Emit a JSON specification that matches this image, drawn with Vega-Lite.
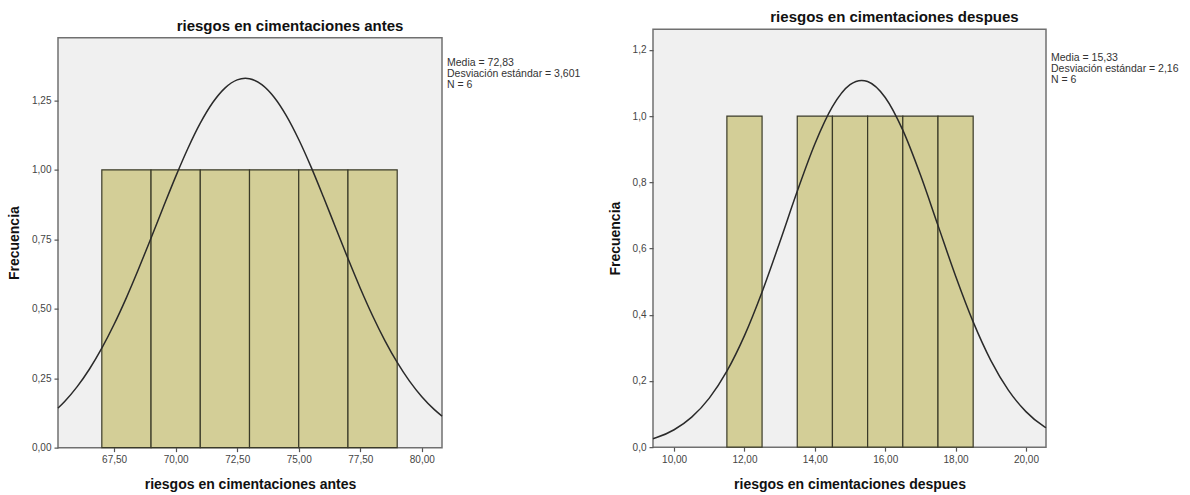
{
  "$schema": "https://vega.github.io/schema/vega-lite/v6.json",
  "background": "white",
  "padding": {"left": 6, "top": 9, "right": 0, "bottom": 0},
  "spacing": 25,
  "center": true,
  "config": {
    "view": {"fill": "#f0f0f0", "stroke": "#707070", "strokeWidth": 1.5},
    "axis": {"grid": false, "domain": false, "tickColor": "#555555", "tickSize": 4, "tickWidth": 1.2,
             "labelFont": "Liberation Sans", "labelFontSize": 10, "labelColor": "#444444", "labelPadding": 3,
             "titleFont": "Liberation Sans", "titleFontSize": 14, "titleFontWeight": "bold", "titleColor": "#111111"},
    "title": {"font": "Liberation Sans", "fontSize": 15, "fontWeight": "bold", "color": "#111111", "anchor": "middle", "frame": "group", "offset": 4}
  },
  "datasets": {
    "histA": [
      {"bin_start": 67, "bin_end": 69, "count": 1},
      {"bin_start": 69, "bin_end": 71, "count": 1},
      {"bin_start": 71, "bin_end": 73, "count": 1},
      {"bin_start": 73, "bin_end": 75, "count": 1},
      {"bin_start": 75, "bin_end": 77, "count": 1},
      {"bin_start": 77, "bin_end": 79, "count": 1}
    ],
    "curveA": [
      {"x": 65.22, "y": 0.1422}, {"x": 65.5, "y": 0.1672}, {"x": 66.0, "y": 0.2197}, {"x": 66.5, "y": 0.2831},
      {"x": 67.0, "y": 0.3580}, {"x": 67.5, "y": 0.4440}, {"x": 68.0, "y": 0.5401}, {"x": 68.5, "y": 0.6446},
      {"x": 69.0, "y": 0.7545}, {"x": 69.5, "y": 0.8662}, {"x": 70.0, "y": 0.9756}, {"x": 70.5, "y": 1.0777},
      {"x": 71.0, "y": 1.1679}, {"x": 71.5, "y": 1.2414}, {"x": 72.0, "y": 1.2943}, {"x": 72.5, "y": 1.3238},
      {"x": 72.83, "y": 1.3294}, {"x": 73.0, "y": 1.3280}, {"x": 73.5, "y": 1.3068}, {"x": 74.0, "y": 1.2614},
      {"x": 74.5, "y": 1.1943}, {"x": 75.0, "y": 1.1092}, {"x": 75.5, "y": 1.0106}, {"x": 76.0, "y": 0.9030},
      {"x": 76.5, "y": 0.7916}, {"x": 77.0, "y": 0.6806}, {"x": 77.5, "y": 0.5740}, {"x": 78.0, "y": 0.4749},
      {"x": 78.5, "y": 0.3854}, {"x": 79.0, "y": 0.3067}, {"x": 79.5, "y": 0.2395}, {"x": 80.0, "y": 0.1834},
      {"x": 80.5, "y": 0.1378}, {"x": 80.82, "y": 0.1136}
    ],
    "statsA": [{"label": "Media = 72,83\nDesviación estándar = 3,601\nN = 6"}],
    "histB": [
      {"bin_start": 11.5, "bin_end": 12.5, "count": 1},
      {"bin_start": 13.5, "bin_end": 14.5, "count": 1},
      {"bin_start": 14.5, "bin_end": 15.5, "count": 1},
      {"bin_start": 15.5, "bin_end": 16.5, "count": 1},
      {"bin_start": 16.5, "bin_end": 17.5, "count": 1},
      {"bin_start": 17.5, "bin_end": 18.5, "count": 1}
    ],
    "curveB": [
      {"x": 9.4, "y": 0.0255}, {"x": 9.5, "y": 0.0289}, {"x": 10.0, "y": 0.0526}, {"x": 10.5, "y": 0.0906},
      {"x": 11.0, "y": 0.1481}, {"x": 11.5, "y": 0.2295}, {"x": 12.0, "y": 0.3369}, {"x": 12.5, "y": 0.4688},
      {"x": 13.0, "y": 0.6184}, {"x": 13.5, "y": 0.7730}, {"x": 14.0, "y": 0.9160}, {"x": 14.5, "y": 1.0287},
      {"x": 15.0, "y": 1.0951}, {"x": 15.33, "y": 1.1082}, {"x": 15.5, "y": 1.1049}, {"x": 16.0, "y": 1.0566},
      {"x": 16.5, "y": 0.9578}, {"x": 17.0, "y": 0.8229}, {"x": 17.5, "y": 0.6701}, {"x": 18.0, "y": 0.5172},
      {"x": 18.5, "y": 0.3784}, {"x": 19.0, "y": 0.2623}, {"x": 19.5, "y": 0.1724}, {"x": 20.0, "y": 0.1074},
      {"x": 20.5, "y": 0.0634}, {"x": 20.57, "y": 0.0587}
    ],
    "statsB": [{"label": "Media = 15,33\nDesviación estándar = 2,16\nN = 6"}],
    "spacerB": [{"label": " "}]
  },
  "hconcat": [
    {
      "width": 384,
      "height": 410,
      "title": {"text": "riesgos en cimentaciones antes", "dx": 40},
      "layer": [
        {
          "data": {"name": "histA"},
          "mark": {"type": "rect", "fill": "#d3ce97", "stroke": "#3a3a28", "strokeWidth": 1.2},
          "encoding": {
            "x": {"field": "bin_start", "type": "quantitative",
                  "scale": {"domain": [65.22, 80.82], "nice": false, "zero": false},
                  "axis": {"values": [67.5, 70, 72.5, 75, 77.5, 80], "labelExpr": "replace(format(datum.value, '.2f'), '.', ',')", "title": "riesgos en cimentaciones antes", "titlePadding": 13}},
            "x2": {"field": "bin_end"},
            "y": {"field": "count", "type": "quantitative",
                  "scale": {"domain": [0, 1.476], "nice": false},
                  "axis": {"values": [0, 0.25, 0.5, 0.75, 1, 1.25], "labelExpr": "replace(format(datum.value, '.2f'), '.', ',')", "title": "Frecuencia", "titlePadding": 10}},
            "y2": {"datum": 0}
          }
        },
        {
          "data": {"name": "curveA"},
          "mark": {"type": "line", "color": "#2a2a2a", "strokeWidth": 1.5, "interpolate": "monotone"},
          "encoding": {
            "x": {"field": "x", "type": "quantitative"},
            "y": {"field": "y", "type": "quantitative"}
          }
        },
        {
          "data": {"name": "statsA"},
          "mark": {"type": "text", "align": "left", "baseline": "top", "dx": 5, "font": "Liberation Sans", "fontSize": 10.5, "color": "#333333", "lineBreak": "\n", "lineHeight": 11},
          "encoding": {
            "x": {"datum": 80.82, "type": "quantitative"},
            "y": {"datum": 1.403, "type": "quantitative"},
            "text": {"field": "label"}
          }
        }
      ]
    },
    {
      "width": 393,
      "height": 418,
      "title": {"text": "riesgos en cimentaciones despues", "dx": 45},
      "layer": [
        {
          "data": {"name": "histB"},
          "mark": {"type": "rect", "fill": "#d3ce97", "stroke": "#3a3a28", "strokeWidth": 1.2},
          "encoding": {
            "x": {"field": "bin_start", "type": "quantitative",
                  "scale": {"domain": [9.4, 20.57], "nice": false, "zero": false},
                  "axis": {"values": [10, 12, 14, 16, 18, 20], "labelExpr": "replace(format(datum.value, '.2f'), '.', ',')", "title": "riesgos en cimentaciones despues", "titlePadding": 13}},
            "x2": {"field": "bin_end"},
            "y": {"field": "count", "type": "quantitative",
                  "scale": {"domain": [0, 1.263], "nice": false},
                  "axis": {"values": [0, 0.2, 0.4, 0.6, 0.8, 1, 1.2], "labelExpr": "replace(format(datum.value, '.1f'), '.', ',')", "title": "Frecuencia", "titlePadding": 10}},
            "y2": {"datum": 0}
          }
        },
        {
          "data": {"name": "curveB"},
          "mark": {"type": "line", "color": "#2a2a2a", "strokeWidth": 1.5, "interpolate": "monotone"},
          "encoding": {
            "x": {"field": "x", "type": "quantitative"},
            "y": {"field": "y", "type": "quantitative"}
          }
        },
        {
          "data": {"name": "statsB"},
          "mark": {"type": "text", "align": "left", "baseline": "top", "dx": 5, "font": "Liberation Sans", "fontSize": 10.5, "color": "#333333", "lineBreak": "\n", "lineHeight": 11},
          "encoding": {
            "x": {"datum": 20.57, "type": "quantitative"},
            "y": {"datum": 1.19, "type": "quantitative"},
            "text": {"field": "label"}
          }
        },
        {
          "data": {"name": "spacerB"},
          "mark": {"type": "text", "align": "left", "baseline": "bottom", "fontSize": 1, "opacity": 0},
          "encoding": {
            "x": {"datum": 15, "type": "quantitative"},
            "y": {"datum": -0.16, "type": "quantitative"},
            "text": {"field": "label"}
          }
        }
      ]
    }
  ]
}
